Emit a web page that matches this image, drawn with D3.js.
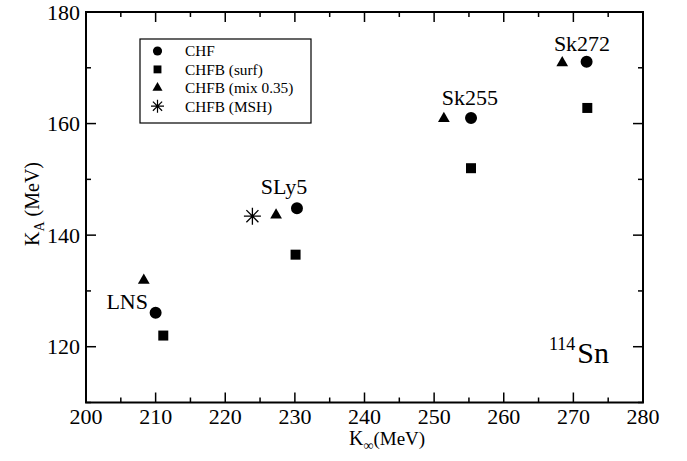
<!DOCTYPE html>
<html>
<head>
<meta charset="utf-8">
<script src="https://cdn.jsdelivr.net/npm/d3@7"></script>
<style>
  body { margin: 0; background: #fff; }
  svg text { font-family: "Liberation Serif", "DejaVu Serif", Tinos, serif; fill: #000; }
</style>
</head>
<body>
<svg id="chart" width="687" height="461" font-family="Liberation Serif, DejaVu Serif, serif"></svg>
<script>
// data
const models = ["LNS", "SLy5", "Sk255", "Sk272"];
const chfK = [210.0, 230.3, 255.3, 271.9];
const chfKA = [126.1, 144.8, 161.0, 171.1];
const surfK = [211.1, 230.1, 255.3, 272.0];
const surfKA = [122.0, 136.5, 152.0, 162.8];
const mixK = [208.3, 227.3, 251.4, 268.4];
const mixKA = [131.9, 143.6, 160.9, 170.9];
const mshK = [223.9];
const mshKA = [143.4];
// label anchors (data units)
const labelK = [208.9, 225.1, 251.1, 267.2];
const labelKA = [126.7, 147.3, 163.4, 173.0];
const xTicks = [200, 210, 220, 230, 240, 250, 260, 270, 280];
const yTicks = [120, 140, 160, 180];
const legendNames = ["CHF", "CHFB (surf)", "CHFB (mix 0.35)", "CHFB (MSH)"];

const serif = "Liberation Serif, DejaVu Serif, serif";
const svg = d3.select("#chart"),
  margin = { top: 12, right: 44, bottom: 58.5, left: 86 },
  width = +svg.attr("width") - margin.left - margin.right,
  height = +svg.attr("height") - margin.top - margin.bottom;

const x = d3.scaleLinear().domain([200, 280]).range([0, width]);
const y = d3.scaleLinear().domain([110, 180]).range([height, 0]);

const g = svg.append("g").attr("transform", `translate(${margin.left},${margin.top})`);

//ticks (inward, on all four sides)
const xMinor = d3.range(205, 280, 10);
const yMinor = d3.range(110, 180, 10).filter((v) => !yTicks.includes(v));
const tickG = g.append("g").attr("stroke", "#000").attr("stroke-width", 1.5);
[[xTicks, 10], [xMinor, 5]].forEach(([vals, len]) => {
  tickG.selectAll(null).data(vals).join("line")
    .attr("x1", (d) => x(d)).attr("x2", (d) => x(d))
    .attr("y1", height).attr("y2", height - len);
  tickG.selectAll(null).data(vals).join("line")
    .attr("x1", (d) => x(d)).attr("x2", (d) => x(d))
    .attr("y1", 0).attr("y2", len);
});
[[yTicks, 10], [yMinor, 5]].forEach(([vals, len]) => {
  tickG.selectAll(null).data(vals).join("line")
    .attr("y1", (d) => y(d)).attr("y2", (d) => y(d))
    .attr("x1", 0).attr("x2", len);
  tickG.selectAll(null).data(vals).join("line")
    .attr("y1", (d) => y(d)).attr("y2", (d) => y(d))
    .attr("x1", width).attr("x2", width - len);
});

g.append("rect")
  .attr("width", width).attr("height", height)
  .attr("fill", "none").attr("stroke", "#000").attr("stroke-width", 2);

//tick labels
g.append("g").attr("font-family", serif).selectAll("text").data(xTicks).join("text")
  .attr("x", (d) => x(d)).attr("y", height + 21.5)
  .attr("text-anchor", "middle").attr("font-size", 22)
  .text((d) => d);
g.append("g").attr("font-family", serif).selectAll("text").data(yTicks).join("text")
  .attr("x", -6).attr("y", (d) => y(d)).attr("dy", "0.35em")
  .attr("text-anchor", "end").attr("font-size", 22)
  .text((d) => d);

//axis titles
const xt = svg.append("text").attr("font-family", serif)
  .attr("x", 349).attr("y", 445).attr("font-size", 20);
xt.append("tspan").text("K");
xt.append("tspan").attr("font-size", 14).attr("dy", 5).text("∞");
xt.append("tspan").attr("font-size", 19).attr("dy", -5).text("(MeV)");

const yt = svg.append("text").attr("font-family", serif)
  .attr("transform", "translate(39,204) rotate(-90)")
  .attr("text-anchor", "middle").attr("font-size", 20);
yt.append("tspan").text("K");
yt.append("tspan").attr("font-size", 14).attr("dy", 5).text("A");
yt.append("tspan").attr("dy", -5).text(" (MeV)");

//markers
const starPath = (r) => {
  const a = r * Math.SQRT1_2;
  return `M${-r},0L${r},0M0,${-r}L0,${r}M${-a},${-a}L${a},${a}M${-a},${a}L${a},${-a}`;
};
const circle = d3.symbol(d3.symbolCircle, 113)();
const square = d3.symbol(d3.symbolSquare, 100)();
const triangle = d3.symbol(d3.symbolTriangle, 60)();

const plotSeries = (ks, kas, path, cls) => {
  g.append("g").attr("class", cls).selectAll("path")
    .data(ks.map((k, i) => [k, kas[i]]))
    .join("path")
    .attr("transform", (d) => `translate(${x(d[0])},${y(d[1])})`)
    .attr("d", path)
    .attr("fill", "#000");
};
plotSeries(chfK, chfKA, circle, "chf");
plotSeries(surfK, surfKA, square, "surf");
plotSeries(mixK, mixKA, triangle, "mix");
g.append("g").selectAll("path")
  .data(mshK.map((k, i) => [k, mshKA[i]]))
  .join("path")
  .attr("transform", (d) => `translate(${x(d[0])},${y(d[1])})`)
  .attr("d", starPath(8.5))
  .attr("fill", "none").attr("stroke", "#000").attr("stroke-width", 1.3);

//model labels
g.append("g").attr("font-family", serif).selectAll("text").data(models).join("text")
  .attr("x", (d, i) => x(labelK[i])).attr("y", (d, i) => y(labelKA[i]))
  .attr("text-anchor", (d, i) => (i === 0 ? "end" : "start"))
  .attr("font-size", 22)
  .text((d) => d);

//nucleus label
const nuc = g.append("text").attr("font-family", serif)
  .attr("x", x(266.5)).attr("y", y(117.0)).attr("font-size", 30);
nuc.append("tspan").attr("font-size", 18).attr("dy", -13).text("114");
nuc.append("tspan").attr("dx", 2).attr("dy", 13).text("Sn");

//legend
const leg = svg.append("g").attr("transform", "translate(140,39)");
leg.append("rect").attr("width", 171).attr("height", 84)
  .attr("fill", "#fff").attr("stroke", "#000").attr("stroke-width", 1.2);
const legSyms = [
  d3.symbol(d3.symbolCircle, 66)(),
  d3.symbol(d3.symbolSquare, 62)(),
  d3.symbol(d3.symbolTriangle, 44)(),
  starPath(6.5),
];
const rows = leg.selectAll("g.row").data(legendNames).join("g")
  .attr("class", "row")
  .attr("transform", (d, i) => `translate(0,${12 + i * 18.4})`);
rows.append("path")
  .attr("transform", "translate(17.5,0)")
  .attr("d", (d, i) => legSyms[i])
  .attr("fill", (d, i) => (i === 3 ? "none" : "#000"))
  .attr("stroke", (d, i) => (i === 3 ? "#000" : "none"))
  .attr("stroke-width", 1.2);
rows.append("text").attr("font-family", serif)
  .attr("x", 45).attr("dy", "0.35em").attr("font-size", 15.3)
  .text((d) => d);
</script>
</body>
</html>
